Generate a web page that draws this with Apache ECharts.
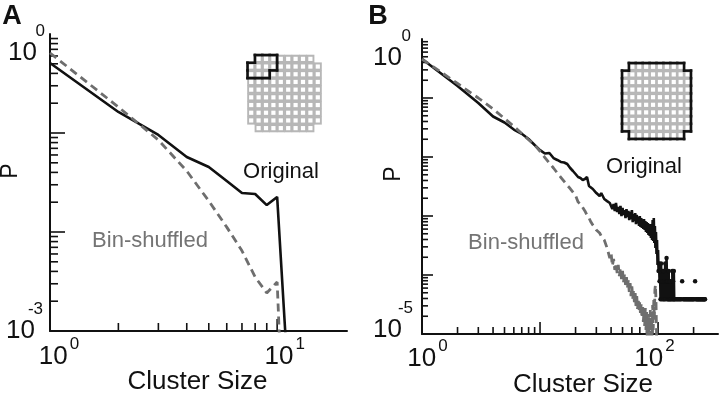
<!DOCTYPE html>
<html>
<head>
<meta charset="utf-8">
<script src="https://cdn.jsdelivr.net/npm/echarts@6/dist/echarts.min.js"></script>
<style>
  html, body { margin: 0; padding: 0; background: #fff; }
  #chart { width: 720px; height: 396px; }
</style>
</head>
<body>
<div id="chart"></div>
<script>
// ---- panel A : small array ----
const sizesA = [1, 2, 3, 4, 5, 6, 7, 8, 9, 10, 11];
const originalA = [0.509, 0.163, 0.0955, 0.0573, 0.0454, 0.0327, 0.0248, 0.0242, 0.0187, 0.0226, 0.00059];
const shuffledA = [0.643, 0.183, 0.085, 0.0413, 0.0206, 0.0112, 0.00645, 0.00351, 0.00242, 0.00313, 0.000015];

// ---- panel B : whole array ----
const sizesB = [1, 2, 3, 4, 5, 6, 7, 8, 9, 10, 11, 12, 13, 14, 15, 16, 17, 18, 19, 20,
  21, 22, 23, 24, 25, 26, 27, 28, 29, 30, 31, 32, 33, 34, 35, 36, 37, 38, 39, 40,
  41, 42, 43, 44, 45, 46, 47, 48, 49, 50, 51, 52, 53, 54, 55, 56, 57, 58, 59, 60,
  61, 62, 63, 64, 65, 66, 67, 68, 69, 70, 71, 72, 73, 74, 75, 76, 77, 78, 79, 80,
  81, 82, 83, 84, 85, 86, 87, 88, 89, 90, 91, 92, 93, 94, 95, 96, 97, 98, 99, 100];
const originalB = [0.458, 0.160, 0.0822, 0.0486, 0.0384, 0.0292, 0.0247, 0.0202, 0.0160, 0.0131,
  0.01146, 0.0117, 0.0096, 0.0089, 0.00823, 0.00807, 0.0076, 0.00651, 0.00579, 0.00515,
  0.00458, 0.00441, 0.00408, 0.00424, 0.00458, 0.00322, 0.00298, 0.00287, 0.00276, 0.00245,
  0.00236, 0.00218, 0.00245, 0.00227, 0.00194, 0.00187, 0.00179, 0.00173, 0.00166, 0.00179,
  0.00131, 0.0016, 0.00122, 0.00166, 0.00117, 0.00142, 0.00108, 0.00148, 0.00100, 0.00137,
  0.00104, 0.00126, 0.000925, 0.00131, 0.00096, 0.00122, 0.000855, 0.00117, 0.00089, 0.00126,
  0.00079, 0.00108, 0.000822, 0.00112, 0.00073, 0.00104, 0.00076, 0.00096, 0.000677, 0.00100,
  0.000651, 0.000925, 0.000626, 0.000855, 0.000602, 0.00089, 0.000579, 0.000822, 0.000536, 0.00079,
  0.000515, 0.00076, 0.000476, 0.00073, 0.000458, 0.000704, 0.000424, 0.00073, 0.000392, 0.000855,
  0.000377, 0.000925, 0.000348, 0.000677, 0.000287, 0.000536, 0.000227, 0.000392, 0.000148, 0.000265];
const shuffledB = [0.458, 0.176, 0.100, 0.0651, 0.045, 0.033, 0.025, 0.0196, 0.016, 0.0125,
  0.0098, 0.0079, 0.00651, 0.00536, 0.00453, 0.00386, 0.00331, 0.00292, 0.00255, 0.00223,
  0.00173, 0.0016, 0.00139, 0.00122, 0.00104, 0.000925, 0.00079, 0.000704, 0.000651, 0.000579,
  0.000557, 0.000515, 0.000458, 0.000424, 0.000392, 0.000392, 0.000287, 0.000298, 0.000194, 0.000236,
  0.000142, 0.000187, 0.000122, 0.00016, 0.000108, 0.000148, 0.0000962, 0.000131, 0.0000855, 0.000117,
  0.000076, 0.000104, 0.0000677, 0.0000925, 0.0000602, 0.0000822, 0.0000515, 0.0000731, 0.000044, 0.0000651,
  0.0000392, 0.0000557, 0.0000348, 0.0000495, 0.0000298, 0.000044, 0.0000265, 0.0000392, 0.0000236, 0.0000362,
  0.000021, 0.0000335, 0.0000187, 0.000031, 0.000016, 0.0000245, 0.0000137, 0.0000276, 0.0000117, 0.0000236,
  0.0000079, 0.000021, 0.0000065, 0.0000218, 0.00000855, 0.0000255, 0.00000536, 0.0000236, 0.0000079, 0.000031,
  0.0000117, 0.0000377, 0.0000173, 0.0000557, 0.0000677, 0.0000377, 0.0000117, 0.00000362, 0.00000076];
// tail of the original curve (sparse counts, null = no cluster of that size)
const tailSizesB = [101, 102, 103, 104, 105, 106, 107, 108, 109, 110, 111, 112, 113, 114, 115, 116, 117, 118, 119, 120,
  121, 122, 123, 124, 125, 126, 127, 128, 129, 130, 131, 132, 133, 134, 135, 136, 137, 138,
  139, 142, 145, 148, 151, 154, 157, 159, 160, 161,
  163, 166, 169, 172, 175, 178, 181, 184, 187, 190, 193, 196, 199, 202, 205, 206, 207,
  209, 212, 215, 218, 221, 224, 227, 230, 233, 236, 239, 242, 245, 248, 250];
const tailOriginalB = [0.000117, 0.000156, 0.000078, 0.000117, 0.000039, 0.000156, 0.000078, 0.000039, 0.000117, 0.000078,
  0.000039, 0.000117, 0.000039, 0.000078, 0.000156, 0.000039, 0.000078, 0.000195, 0.000078, 0.000039,
  0.000078, 0.000039, 0.000117, 0.000039, 0.000078, 0.000039, 0.000078, 0.000039, null, 0.000039,
  null, 0.000117, 0.000039, 0.000078, 0.000039, 0.000117, 0.000039, null,
  0.000039, 0.000039, 0.000039, 0.000039, 0.000039, 0.000039, 0.000039, null, 0.000078, null,
  0.000039, 0.000039, 0.000039, 0.000039, 0.000039, 0.000039, 0.000039, 0.000039, 0.000039, 0.000039,
  0.000039, 0.000039, 0.000039, 0.000039, null, 0.000078, null,
  0.000039, 0.000039, 0.000039, 0.000039, 0.000039, 0.000039, 0.000039, 0.000039, 0.000039, 0.000039,
  0.000039, 0.000039, 0.000039, 0.000039, 0.000039];

// axis ticks
const xTicksA = [2, 3, 4, 5, 6, 7, 8, 9, 10];
const yTicksA = [0.9, 0.8, 0.7, 0.6, 0.5, 0.4, 0.3, 0.2, 0.1, 0.09, 0.08, 0.07, 0.06, 0.05, 0.04, 0.03, 0.02,
  0.01, 0.009, 0.008, 0.007, 0.006, 0.005, 0.004, 0.003, 0.002];
const xTicksB = [2, 3, 4, 5, 6, 7, 8, 9, 10, 20, 30, 40, 50, 60, 70, 80, 90, 100, 200];
const yTicksB = [0.9, 0.8, 0.7, 0.6, 0.5, 0.4, 0.3, 0.2, 0.1, 0.09, 0.08, 0.07, 0.06, 0.05, 0.04, 0.03, 0.02,
  0.01, 0.009, 0.008, 0.007, 0.006, 0.005, 0.004, 0.003, 0.002, 0.001, 0.0009, 0.0008, 0.0007, 0.0006,
  0.0005, 0.0004, 0.0003, 0.0002, 0.0001, 0.00009, 0.00008, 0.00007, 0.00006, 0.00005, 0.00004, 0.00003, 0.00002];

// axis ranges
const rangeA = { xMin: 1, xMax: 20.3, yMin: 0.001, yMax: 1 };
const rangeB = { xMin: 1, xMax: 322, yMin: 0.00001, yMax: 1 };

// electrode array (inset), '#' = electrode
const meaLayout = [
  '.########.',
  '##########',
  '##########',
  '##########',
  '##########',
  '##########',
  '##########',
  '##########',
  '##########',
  '.########.'
];
const clusterA = [
  '.###......',
  '####......',
  '###.......',
  '..........',
  '..........',
  '..........',
  '..........',
  '..........',
  '..........',
  '..........'
];
const clusterB = meaLayout;

const FONT = "'Liberation Sans', Arial, Helvetica, sans-serif";
const INK = '#111';
const GREY = '#6e6e6e';

function cellsOf(map) {
  const out = [];
  map.forEach((row, r) => row.split('').forEach((ch, c) => { if (ch === '#') out.push([c, r]); }));
  return out;
}
function decadeOf(v) {
  const l = Math.log10(v);
  const e = Math.round(l);
  return Math.abs(l - e) < 0.01 ? e : null;
}
function pairs(xs, ys) {
  return xs.map((x, i) => [x, ys[i] == null ? '-' : ys[i]]);
}
function tok(size, padding, extra) {
  return Object.assign({ fontSize: size, fontFamily: FONT, color: INK, padding: padding }, extra || {});
}

// tick marks drawn inside the axes
function tickSeries(idx, values, fixed, dir, majorLen, minorLen) {
  return {
    type: 'custom', xAxisIndex: idx, yAxisIndex: idx, silent: true, z: 3,
    data: values.map(v => dir === 'x' ? [v, fixed] : [fixed, v]),
    renderItem: function (params, api) {
      const p = api.coord([api.value(0), api.value(1)]);
      const v = api.value(dir === 'x' ? 0 : 1);
      const len = decadeOf(v) !== null ? majorLen : minorLen;
      const shape = dir === 'x'
        ? { x1: p[0], y1: p[1], x2: p[0], y2: p[1] - len }
        : { x1: p[0], y1: p[1], x2: p[0] + len, y2: p[1] };
      return { type: 'line', shape: shape, style: { stroke: INK, lineWidth: 1.6 } };
    }
  };
}

function cellSeries(idx, cells) {
  return {
    type: 'custom', xAxisIndex: idx, yAxisIndex: idx, silent: true,
    data: cells,
    renderItem: function (params, api) {
      const c = api.coord([api.value(0), api.value(1)]);
      const s = api.size([1, 1]);
      const w = Math.abs(s[0]), h = Math.abs(s[1]);
      return {
        type: 'group', children: [
          { type: 'rect', shape: { x: c[0] - w / 2 - 0.3, y: c[1] - h / 2 - 0.3, width: w + 0.6, height: h + 0.6 }, style: { fill: '#b7b7b7' } },
          { type: 'rect', shape: { x: c[0] - 2.1, y: c[1] - 2.1, width: 4.2, height: 4.2 }, style: { fill: '#fff' } }
        ]
      };
    }
  };
}

function outlineSeries(idx, cells) {
  const set = new Set(cells.map(c => c[0] + ',' + c[1]));
  const has = (c, r) => set.has(c + ',' + r);
  return {
    type: 'custom', xAxisIndex: idx, yAxisIndex: idx, silent: true, z: 4,
    data: cells,
    renderItem: function (params, api) {
      const col = api.value(0), row = api.value(1);
      const c = api.coord([col, row]);
      const s = api.size([1, 1]);
      const w = Math.abs(s[0]), h = Math.abs(s[1]);
      const x0 = c[0] - w / 2, x1 = c[0] + w / 2, y0 = c[1] - h / 2, y1 = c[1] + h / 2;
      const edges = [];
      if (!has(col, row - 1)) edges.push([x0, y0, x1, y0]);
      if (!has(col, row + 1)) edges.push([x0, y1, x1, y1]);
      if (!has(col - 1, row)) edges.push([x0, y0, x0, y1]);
      if (!has(col + 1, row)) edges.push([x1, y0, x1, y1]);
      return {
        type: 'group',
        children: edges.map(e => ({
          type: 'line', shape: { x1: e[0], y1: e[1], x2: e[2], y2: e[3] },
          style: { stroke: INK, lineWidth: 2.6, lineCap: 'square' }
        }))
      };
    }
  };
}

const axisLine = { show: true, onZero: false, lineStyle: { color: INK, width: 2 } };

const chart = echarts.init(document.getElementById('chart'));
chart.setOption({
  animation: false,
  backgroundColor: '#fff',
  grid: [
    { left: 50, top: 34, width: 297, height: 297, outerBoundsMode: 'none' },
    { left: 422, top: 39, width: 296, height: 295, outerBoundsMode: 'none' },
    { left: 247.5, top: 55, width: 74, height: 77, outerBoundsMode: 'none' },
    { left: 622, top: 63, width: 69, height: 76, outerBoundsMode: 'none' }
  ],
  xAxis: [
    {
      type: 'log', gridIndex: 0, min: rangeA.xMin, max: rangeA.xMax,
      axisLine: axisLine, axisTick: { show: false }, splitLine: { show: false },
      axisLabel: {
        margin: 4.5, showMinLabel: true, showMaxLabel: true,
        formatter: function (v) {
          const e = decadeOf(v);
          if (e === 0) return '{a0|10}{s|0}';
          if (e === 1) return '{a1|10}{s|1}';
          return '';
        },
        rich: {
          a0: tok(26, [8, 0, 0, 18]),
          a1: tok(26, [8, 0, 0, 15]),
          s: tok(17, [0, 0, 0, 2], { verticalAlign: 'top' })
        }
      }
    },
    {
      type: 'log', gridIndex: 1, min: rangeB.xMin, max: rangeB.xMax,
      axisLine: axisLine, axisTick: { show: false }, splitLine: { show: false },
      axisLabel: {
        margin: 3.5, showMinLabel: true, showMaxLabel: true,
        formatter: function (v) {
          const e = decadeOf(v);
          if (e === 0) return '{a0|10}{s|0}';
          if (e === 2) return '{a2|10}{s2|2}';
          return '';
        },
        rich: {
          a0: tok(26, [8, 0, 0, 11]),
          a2: tok(26, [8, 0, 0, 0]),
          s: tok(17, [0, 0, 0, 2], { verticalAlign: 'top' }),
          s2: tok(17, [0, 7, 0, 2], { verticalAlign: 'top' })
        }
      }
    },
    { type: 'value', gridIndex: 2, min: -0.5, max: 9.5, show: false },
    { type: 'value', gridIndex: 3, min: -0.5, max: 9.5, show: false }
  ],
  yAxis: [
    {
      type: 'log', gridIndex: 0, min: rangeA.yMin, max: rangeA.yMax,
      axisLine: axisLine, axisTick: { show: false }, splitLine: { show: false },
      axisLabel: {
        margin: 5, showMinLabel: true, showMaxLabel: true,
        formatter: function (v) {
          const e = decadeOf(v);
          if (e === 0) return '{s0|0}\n{b0|10}';
          if (e === -3) return '{s3|-3}\n{b3|10}';
          return '';
        },
        rich: {
          s0: tok(17, [20, 0, 0, 0]),
          b0: tok(26, [0, 8, 0, 0]),
          s3: tok(17, [0, 2, 0, 0]),
          b3: tok(26, [0, 10, 18, 0])
        }
      }
    },
    {
      type: 'log', gridIndex: 1, min: rangeB.yMin, max: rangeB.yMax,
      axisLine: axisLine, axisTick: { show: false }, splitLine: { show: false },
      axisLabel: {
        margin: 9, showMinLabel: true, showMaxLabel: true,
        formatter: function (v) {
          const e = decadeOf(v);
          if (e === 0) return '{s0|0}\n{b0|10}';
          if (e === -5) return '{s5|-5}\n{b5|10}';
          return '';
        },
        rich: {
          s0: tok(17, [21, 2, 0, 0]),
          b0: tok(26, [0, 11, 0, 0]),
          s5: tok(17, [0, 0, 0, 0]),
          b5: tok(26, [0, 11, 26, 0])
        }
      }
    },
    { type: 'value', gridIndex: 2, min: -0.5, max: 9.5, inverse: true, show: false },
    { type: 'value', gridIndex: 3, min: -0.5, max: 9.5, inverse: true, show: false }
  ],
  graphic: [
    { type: 'text', x: 12, y: 17, style: { text: 'A', font: 'bold 27px ' + FONT, fill: INK, align: 'center', verticalAlign: 'middle' } },
    { type: 'text', x: 378, y: 17, style: { text: 'B', font: 'bold 27px ' + FONT, fill: INK, align: 'center', verticalAlign: 'middle' } },
    { type: 'text', x: 11, y: 171, rotation: Math.PI / 2, style: { text: 'P', font: '23px ' + FONT, fill: INK, align: 'center', verticalAlign: 'middle' } },
    { type: 'text', x: 394, y: 174, rotation: Math.PI / 2, style: { text: 'P', font: '23px ' + FONT, fill: INK, align: 'center', verticalAlign: 'middle' } },
    { type: 'text', x: 197.5, y: 382, style: { text: 'Cluster Size', font: '26px ' + FONT, fill: INK, align: 'center', verticalAlign: 'middle' } },
    { type: 'text', x: 583, y: 385, style: { text: 'Cluster Size', font: '26px ' + FONT, fill: INK, align: 'center', verticalAlign: 'middle' } },
    { type: 'text', x: 281, y: 172, style: { text: 'Original', font: '22px ' + FONT, fill: INK, align: 'center', verticalAlign: 'middle' } },
    { type: 'text', x: 644, y: 167, style: { text: 'Original', font: '22px ' + FONT, fill: INK, align: 'center', verticalAlign: 'middle' } },
    { type: 'text', x: 150, y: 241, style: { text: 'Bin-shuffled', font: '22px ' + FONT, fill: '#747474', align: 'center', verticalAlign: 'middle' } },
    { type: 'text', x: 526, y: 243, style: { text: 'Bin-shuffled', font: '22px ' + FONT, fill: '#747474', align: 'center', verticalAlign: 'middle' } }
  ],
  series: [
    tickSeries(0, xTicksA, rangeA.yMin, 'x', 12, 8),
    tickSeries(0, yTicksA, rangeA.xMin, 'y', 15, 8),
    tickSeries(1, xTicksB, rangeB.yMin, 'x', 12, 7),
    tickSeries(1, yTicksB, rangeB.xMin, 'y', 11, 6),
    {
      name: 'Original A', type: 'line', xAxisIndex: 0, yAxisIndex: 0,
      data: pairs(sizesA, originalA), symbol: 'none', clip: true, z: 5,
      lineStyle: { color: INK, width: 2.6 }
    },
    {
      name: 'Bin-shuffled A', type: 'line', xAxisIndex: 0, yAxisIndex: 0,
      data: pairs(sizesA, shuffledA), symbol: 'none', clip: true, z: 6,
      lineStyle: { color: GREY, width: 2.8, type: [8, 5] }
    },
    {
      name: 'Original B', type: 'line', xAxisIndex: 1, yAxisIndex: 1,
      data: pairs(sizesB.concat(tailSizesB), originalB.concat(tailOriginalB)),
      symbol: 'circle', symbolSize: function (val) { return val[0] > 100 ? 4.5 : 0; },
      itemStyle: { color: INK }, connectNulls: false, clip: true, z: 5,
      lineStyle: { color: INK, width: 2.6 }
    },
    {
      name: 'Bin-shuffled B', type: 'line', xAxisIndex: 1, yAxisIndex: 1,
      data: pairs(sizesB, shuffledB), symbol: 'none', clip: true, z: 6,
      lineStyle: { color: GREY, width: 2.8, type: [8, 5] }
    },
    cellSeries(2, cellsOf(meaLayout)),
    outlineSeries(2, cellsOf(clusterA)),
    cellSeries(3, cellsOf(meaLayout)),
    outlineSeries(3, cellsOf(clusterB))
  ]
});
</script>
</body>
</html>
